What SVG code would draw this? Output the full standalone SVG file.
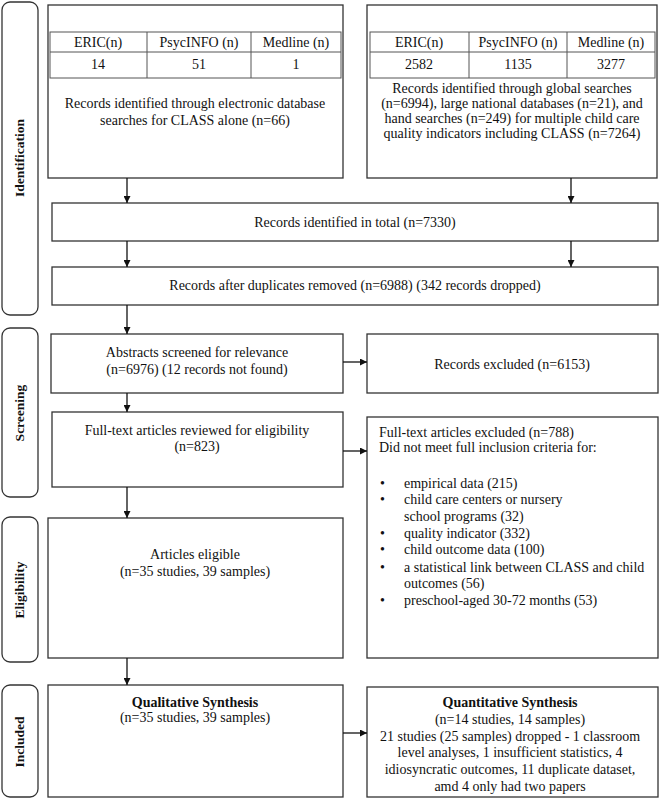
<svg xmlns="http://www.w3.org/2000/svg" width="660" height="799" viewBox="0 0 660 799">
<defs>
<marker id="ah" viewBox="0 0 10 10" refX="10" refY="5" markerWidth="7" markerHeight="7" markerUnits="userSpaceOnUse" orient="auto">
<path d="M0,0 L10,5 L0,10 z" fill="#111"/>
</marker>
<style>
.box{fill:#fff;stroke:#333;stroke-width:1.3}
.side{fill:#fff;stroke:#333;stroke-width:1.3}
.cell{fill:none;stroke:#555;stroke-width:1}
text{font-family:"Liberation Serif","Times New Roman",serif;font-size:14px;fill:#111}
.c{text-anchor:middle}
.b{font-weight:bold}
.lab{font-weight:bold;font-size:13.5px;text-anchor:middle}
.con{stroke:#111;stroke-width:1.3;fill:none;marker-end:url(#ah)}
</style>
</defs>
<rect width="660" height="799" fill="#fff"/>

<g id="side-identification"><rect class="side" x="2" y="2" width="36" height="313" rx="8"/><text class="lab" transform="translate(24,158) rotate(-90)">Identification</text></g>
<g id="side-screening"><rect class="side" x="2" y="328" width="36" height="169" rx="8"/><text class="lab" transform="translate(24,413) rotate(-90)">Screening</text></g>
<g id="side-eligibility"><rect class="side" x="2" y="517" width="36" height="145" rx="8"/><text class="lab" transform="translate(24,590) rotate(-90)">Eligibility</text></g>
<g id="side-included"><rect class="side" x="2" y="685" width="36" height="112" rx="8"/><text class="lab" transform="translate(24,742) rotate(-90)">Included</text></g>

<g id="n-class">
<rect class="box" x="48" y="5" width="295" height="173"/>
<rect class="cell" x="50" y="32" width="291" height="46"/>
<line class="cell" x1="50" y1="52" x2="341" y2="52"/>
<line class="cell" x1="147" y1="32" x2="147" y2="78"/>
<line class="cell" x1="251" y1="32" x2="251" y2="78"/>
<text class="c" x="98" y="47">ERIC(n)</text>
<text class="c" x="199" y="47">PsycINFO (n)</text>
<text class="c" x="296" y="47">Medline (n)</text>
<text class="c" x="98" y="69">14</text>
<text class="c" x="199" y="69">51</text>
<text class="c" x="296" y="69">1</text>
<text class="c" x="195" y="108">Records identified through electronic database</text>
<text class="c" x="195" y="125">searches for CLASS alone (n=66)</text>
</g>

<g id="n-global">
<rect class="box" x="367" y="5" width="290" height="173"/>
<rect class="cell" x="370" y="32" width="285" height="46"/>
<line class="cell" x1="370" y1="52" x2="655" y2="52"/>
<line class="cell" x1="469" y1="32" x2="469" y2="78"/>
<line class="cell" x1="567" y1="32" x2="567" y2="78"/>
<text class="c" x="419" y="47">ERIC(n)</text>
<text class="c" x="518" y="47">PsycINFO (n)</text>
<text class="c" x="611" y="47">Medline (n)</text>
<text class="c" x="419" y="69">2582</text>
<text class="c" x="518" y="69">1135</text>
<text class="c" x="611" y="69">3277</text>
<text class="c" x="512" y="93">Records identified through global searches</text>
<text class="c" x="512" y="108">(n=6994), large national databases (n=21), and</text>
<text class="c" x="512" y="123">hand searches (n=249) for multiple child care</text>
<text class="c" x="512" y="138">quality indicators including CLASS (n=7264)</text>
</g>

<g id="n-total"><rect class="box" x="52" y="203" width="606" height="38"/><text class="c" x="355" y="227">Records identified in total (n=7330)</text></g>
<g id="n-dedup"><rect class="box" x="52" y="267" width="606" height="38"/><text class="c" x="355" y="290">Records after duplicates removed (n=6988) (342 records dropped)</text></g>

<g id="n-abstracts"><rect class="box" x="51" y="334" width="292" height="59"/><text class="c" x="197" y="357">Abstracts screened for relevance</text><text class="c" x="197" y="374">(n=6976) (12 records not found)</text></g>
<g id="n-excluded"><rect class="box" x="367" y="334" width="291" height="59"/><text class="c" x="512" y="369">Records excluded (n=6153)</text></g>

<g id="n-fulltext"><rect class="box" x="52" y="412" width="291" height="75"/><text class="c" x="197" y="435">Full-text articles reviewed for eligibility</text><text class="c" x="197" y="451">(n=823)</text></g>
<g id="n-ftexcluded">
<rect class="box" x="367" y="417" width="291" height="241"/>
<text x="379" y="437">Full-text articles excluded (n=788)</text>
<text x="379" y="452">Did not meet full inclusion criteria for:</text>
<text x="380" y="488">•</text><text x="404" y="488">empirical data (215)</text>
<text x="380" y="504">•</text><text x="404" y="504">child care centers or nursery</text>
<text x="404" y="521">school programs (32)</text>
<text x="380" y="538">•</text><text x="404" y="538">quality indicator (332)</text>
<text x="380" y="554">•</text><text x="404" y="554">child outcome data (100)</text>
<text x="380" y="572">•</text><text x="404" y="572">a statistical link between CLASS and child</text>
<text x="404" y="588">outcomes (56)</text>
<text x="380" y="605">•</text><text x="404" y="605">preschool-aged 30-72 months (53)</text>
</g>

<g id="n-eligible"><rect class="box" x="48" y="518" width="295" height="140"/><text class="c" x="195" y="559">Articles eligible</text><text class="c" x="195" y="576">(n=35 studies, 39 samples)</text></g>

<g id="n-qual"><rect class="box" x="48" y="685" width="295" height="112"/><text class="c b" x="195" y="707">Qualitative Synthesis</text><text class="c" x="195" y="722">(n=35 studies, 39 samples)</text></g>
<g id="n-quant">
<rect class="box" x="367" y="687" width="291" height="110"/>
<text class="c b" x="510" y="707">Quantitative Synthesis</text>
<text class="c" x="510" y="724">(n=14 studies, 14 samples)</text>
<text class="c" x="510" y="741">21 studies (25 samples) dropped - 1 classroom</text>
<text class="c" x="510" y="757">level analyses, 1 insufficient statistics, 4</text>
<text class="c" x="510" y="774">idiosyncratic outcomes, 11 duplicate dataset,</text>
<text class="c" x="510" y="791">amd 4 only had two papers</text>
</g>

<g id="connectors">
<line class="con" x1="127" y1="178" x2="127" y2="203"/>
<line class="con" x1="571" y1="178" x2="571" y2="203"/>
<line class="con" x1="127" y1="241" x2="127" y2="267"/>
<line class="con" x1="571" y1="241" x2="571" y2="267"/>
<line class="con" x1="127" y1="305" x2="127" y2="334"/>
<line class="con" x1="127" y1="393" x2="127" y2="412"/>
<line class="con" x1="127" y1="487" x2="127" y2="518"/>
<line class="con" x1="127" y1="658" x2="127" y2="685"/>
<line class="con" x1="343" y1="362" x2="367" y2="362"/>
<line class="con" x1="343" y1="451" x2="367" y2="451"/>
<line class="con" x1="343" y1="733" x2="367" y2="733"/>
</g>
</svg>
